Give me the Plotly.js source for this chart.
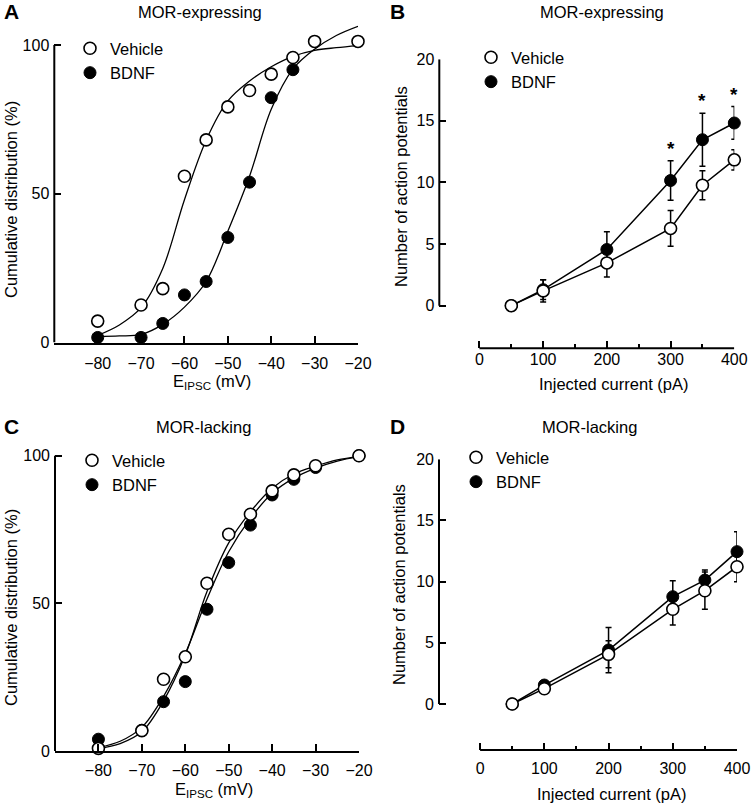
<!DOCTYPE html>
<html>
<head>
<meta charset="utf-8">
<script src="https://cdn.plot.ly/plotly-3.0.1.min.js"></script>
<style>
  html, body { margin: 0; padding: 0; background: #fff; }
  #chart { width: 752px; height: 805px; }
</style>
</head>
<body>
<div id="chart"></div>
<script>
// ---------- data: E_IPSC cumulative distributions (panels A, C) ----------
const voltageA = [-80, -70, -65, -60, -55, -50, -45, -40, -35, -30, -20];
const vehicleA = [7.2, 12.6, 18.1, 55.9, 68.1, 79.2, 84.7, 90.2, 95.8, 101.2, 101.2];
const bdnfVoltageA = [-80, -70, -65, -60, -55, -50, -45, -40, -35];
const bdnfA = [1.7, 1.7, 6.4, 16.0, 20.5, 35.3, 53.9, 82.3, 91.7];

const voltageC = [-80, -70, -65, -60, -55, -50, -45, -40, -35, -30, -20];
const vehicleC = [0.9, 6.9, 24.3, 31.9, 56.8, 73.4, 80.2, 88.1, 93.5, 96.6, 100];
const bdnfC = [4.0, 7.0, 16.7, 23.5, 48.0, 63.8, 76.5, 86.7, 92.0, 96.0, 100];

// fitted curves, every 5 mV
const fitVoltage = [-80, -75, -70, -65, -60, -55, -50, -45, -40, -35, -30, -25, -20];
const vehicleFitA = [2.4, 5.9, 11.7, 24.9, 48, 68, 81.2, 87.9, 92.7, 96.2, 98.2, 99.1, 99.8];
const bdnfFitA = [2.0, 2.2, 2.7, 6.1, 11.9, 20.5, 37.4, 55.9, 78.4, 91.9, 98.6, 103.2, 106.3];
const vehicleFitC = [0.8, 2.5, 6.5, 17, 32.5, 54, 70.5, 81, 89, 93.8, 96.5, 98.6, 99.7];
const bdnfFitC = [1.2, 3.3, 8, 18.5, 33, 51.5, 67.5, 78.8, 87.3, 92.4, 95.8, 98.2, 99.7];

// ---------- data: action potentials vs injected current (panels B, D) ----------
const current = [50, 100, 200, 300, 350, 400];
const vehicleB = [0, 1.2, 3.47, 6.27, 9.78, 11.84];
const vehicleBErr = [0, 0.9, 1.14, 1.45, 1.18, 0.82];
const bdnfB = [0, 1.3, 4.56, 10.16, 13.47, 14.83];
const bdnfBErr = [0, 0.8, 1.44, 1.6, 2.15, 1.33];
const significantB = [300, 350, 400];

const vehicleD = [0, 1.25, 4.06, 7.74, 9.26, 11.22];
const vehicleDErr = [0, 0.3, 1.1, 1.28, 1.52, 1.22];
const bdnfD = [0, 1.55, 4.41, 8.77, 10.13, 12.45];
const bdnfDErr = [0, 0.3, 1.85, 1.31, 0.82, 1.63];

// ---------- helpers ----------
const W = 752, H = 805;
const px = v => v / W;
const py = v => 1 - v / H;
const FONT = 'Liberation Sans, Arial, Helvetica, sans-serif';
const TXT = 16.5;

const openMarker = { symbol: 'circle', size: 12, color: '#fff', line: { color: '#000', width: 1.6 } };
const filledMarker = { symbol: 'circle', size: 12, color: '#000', line: { color: '#000', width: 1 } };
const errStyle = (arr) => ({ type: 'data', array: arr, visible: true, color: '#000', thickness: 1.5, width: 3 });

function fitTrace(y, xa, ya) {
    return {
        x: fitVoltage, y: y, xaxis: xa, yaxis: ya,
        mode: 'lines', line: { color: '#000', width: 1.3, shape: 'spline', smoothing: 1 },
        showlegend: false, hoverinfo: 'skip'
    };
}

function pointTrace(x, y, name, marker, xa, ya, legend, rank, err) {
    const t = {
        x: x, y: y, xaxis: xa, yaxis: ya, name: name,
        mode: 'markers', marker: marker, cliponaxis: false,
        legend: legend, legendrank: rank, legendgroup: legend + name
    };
    if (err) t.error_y = errStyle(err);
    return t;
}

function lineTrace(y, xa, ya) {
    return {
        x: current, y: y, xaxis: xa, yaxis: ya,
        mode: 'lines', line: { color: '#000', width: 1.5 },
        showlegend: false, hoverinfo: 'skip'
    };
}

const data = [
    // A
    fitTrace(vehicleFitA, 'x', 'y'),
    fitTrace(bdnfFitA, 'x', 'y'),
    pointTrace(voltageA, vehicleA, 'Vehicle', openMarker, 'x', 'y', 'legend', 1),
    pointTrace(bdnfVoltageA, bdnfA, 'BDNF', filledMarker, 'x', 'y', 'legend', 2),
    // B
    lineTrace(vehicleB, 'x2', 'y2'),
    lineTrace(bdnfB, 'x2', 'y2'),
    pointTrace(current, bdnfB, 'BDNF', filledMarker, 'x2', 'y2', 'legend2', 2, bdnfBErr),
    pointTrace(current, vehicleB, 'Vehicle', openMarker, 'x2', 'y2', 'legend2', 1, vehicleBErr),
    // C
    fitTrace(vehicleFitC, 'x3', 'y3'),
    fitTrace(bdnfFitC, 'x3', 'y3'),
    pointTrace(voltageC, bdnfC, 'BDNF', filledMarker, 'x3', 'y3', 'legend3', 2),
    pointTrace(voltageC, vehicleC, 'Vehicle', openMarker, 'x3', 'y3', 'legend3', 1),
    // D
    lineTrace(vehicleD, 'x4', 'y4'),
    lineTrace(bdnfD, 'x4', 'y4'),
    pointTrace(current, bdnfD, 'BDNF', filledMarker, 'x4', 'y4', 'legend4', 2, bdnfDErr),
    pointTrace(current, vehicleD, 'Vehicle', openMarker, 'x4', 'y4', 'legend4', 1, vehicleDErr)
];

// ---------- axes ----------
const baseAxis = {
    showgrid: false, zeroline: false, fixedrange: true,
    ticks: 'inside', ticklen: 7, tickwidth: 2, tickcolor: '#000',
    tickfont: { family: FONT, size: 16, color: '#000' }
};

const voltAxis = (domain, anchor, standoff) => Object.assign({}, baseAxis, {
    domain: domain, anchor: anchor, range: [-90, -20],
    tickmode: 'array', tickvals: [-80, -70, -60, -50, -40, -30, -20],
    showline: true, linewidth: 2, linecolor: '#000', ticklabelstandoff: standoff
});
const pctAxis = (domain, anchor) => Object.assign({}, baseAxis, {
    domain: domain, anchor: anchor, range: [0, 108],
    tickmode: 'array', tickvals: [0, 50, 100], showline: false, ticklabelstandoff: 4
});
const currentAxis = (domain, anchor, left, standoff) => Object.assign({}, baseAxis, {
    domain: domain, anchor: anchor, range: [left, 400],
    tickmode: 'array', tickvals: [0, 100, 200, 300, 400], showline: false,
    ticklabelstandoff: standoff,
    minor: { tickmode: 'array', tickvals: [50, 150, 250, 350], ticks: 'inside', ticklen: 4, tickwidth: 2, tickcolor: '#000' }
});
const apAxis = (domain, anchor, bottom) => Object.assign({}, baseAxis, {
    domain: domain, anchor: anchor, range: [bottom, 20],
    tickmode: 'array', tickvals: [0, 5, 10, 15, 20], showline: false, ticklabelstandoff: 4
});

// ---------- text ----------
const txt = (text, x, y, opts) => Object.assign({
    text: text, xref: 'paper', yref: 'paper', x: px(x), y: py(y),
    xanchor: 'center', yanchor: 'middle', showarrow: false,
    font: { family: FONT, size: TXT, color: '#000' }
}, opts || {});
const bold = { font: { family: FONT, size: 21, color: '#000', weight: 'bold' }, xanchor: 'left' };

const annotations = [
    txt('<b>A</b>', 2, 11, bold),
    txt('<b>B</b>', 388, 11, bold),
    txt('<b>C</b>', 2, 426, bold),
    txt('<b>D</b>', 388, 426, bold),
    txt('MOR-expressing', 200, 12),
    txt('MOR-expressing', 602, 12),
    txt('MOR-lacking', 203, 427),
    txt('MOR-lacking', 589, 427),
    txt('Cumulative distribution (%)', 11, 200, { textangle: -90 }),
    txt('Number of action potentials', 401, 187, { textangle: -90 }),
    txt('Cumulative distribution (%)', 11, 608, { textangle: -90 }),
    txt('Number of action potentials', 399, 585, { textangle: -90 }),
    txt('E<sub>IPSC</sub> (mV)', 212, 382),
    txt('Injected current (pA)', 613, 384),
    txt('E<sub>IPSC</sub> (mV)', 214, 790),
    txt('Injected current (pA)', 611, 794)
];

// significance asterisks above BDNF error bars in B
significantB.forEach(c => {
    const i = current.indexOf(c);
    annotations.push({
        text: '*', xref: 'x2', yref: 'y2', x: c, y: bdnfB[i] + bdnfBErr[i],
        xanchor: 'center', yanchor: 'bottom', yshift: 0, showarrow: false,
        font: { family: FONT, size: 19, color: '#000', weight: 'bold' }
    });
});

// axis lines that stop at the last labelled tick
const axLine = { type: 'line', line: { color: '#000', width: 2 }, layer: 'above' };
const shapes = [
    Object.assign({ xref: 'x domain', yref: 'y', x0: 0, x1: 0, y0: 0, y1: 100 }, axLine),
    Object.assign({ xref: 'x3 domain', yref: 'y3', x0: 0, x1: 0, y0: 0, y1: 100 }, axLine),
    Object.assign({ xref: 'x2 domain', yref: 'y2', x0: 0, x1: 0, y0: 0, y1: 20 }, axLine),
    Object.assign({ xref: 'x2', yref: 'y2 domain', x0: 0, x1: 400, y0: 0, y1: 0 }, axLine),
    Object.assign({ xref: 'x4 domain', yref: 'y4', x0: 0, x1: 0, y0: 0, y1: 20 }, axLine),
    Object.assign({ xref: 'x4', yref: 'y4 domain', x0: 0, x1: 400, y0: 0, y1: 0 }, axLine)
];

const legendStyle = (x, y) => ({
    x: px(x), y: py(y), xanchor: 'left', yanchor: 'top',
    bgcolor: 'rgba(0,0,0,0)', borderwidth: 0, traceorder: 'grouped', tracegroupgap: 0,
    font: { family: FONT, size: TXT, color: '#000' }, itemclick: false, itemdoubleclick: false
});

const layout = {
    width: W, height: H,
    margin: { l: 0, r: 0, t: 0, b: 0 },
    paper_bgcolor: '#fff', plot_bgcolor: 'rgba(0,0,0,0)',
    showlegend: true,
    font: { family: FONT, size: TXT, color: '#000' },
    xaxis: voltAxis([px(54.3), px(358)], 'y', 5),
    yaxis: pctAxis([py(342.5), py(21.2)], 'x'),
    xaxis2: currentAxis([px(439.3), px(734.3)], 'y2', -63, 0),
    yaxis2: apAxis([py(348.3), py(59.3)], 'x2', -3.46),
    xaxis3: voltAxis([px(55), px(359)], 'y3', 4),
    yaxis3: pctAxis([py(751), py(432.1)], 'x3'),
    xaxis4: currentAxis([px(439), px(737)], 'y4', -64, 7),
    yaxis4: apAxis([py(750), py(459.3)], 'x4', -3.76),
    legend: legendStyle(70, 31),
    legend2: legendStyle(471, 40),
    legend3: legendStyle(72, 443),
    legend4: legendStyle(456, 440),
    annotations: annotations,
    shapes: shapes
};

Plotly.newPlot('chart', data, layout, { staticPlot: true, displayModeBar: false });
</script>
</body>
</html>
